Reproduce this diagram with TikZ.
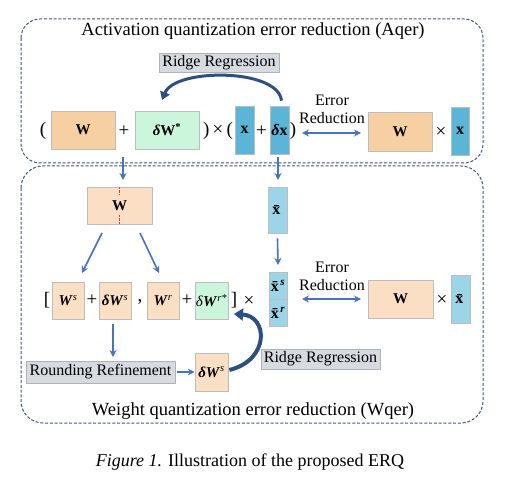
\documentclass[tikz,border=0pt]{standalone}
\usepackage{fontspec}
\setmainfont{Liberation Serif}
\usetikzlibrary{arrows.meta}
\definecolor{orgA}{HTML}{F6CFA2}
\definecolor{orgB}{HTML}{FADFC4}
\definecolor{grnA}{HTML}{CBF6DB}
\definecolor{bluA}{HTML}{5AB5D6}
\definecolor{bluB}{HTML}{9CD4E8}
\definecolor{gryF}{HTML}{D7DBE0}
\definecolor{gryD}{HTML}{AEB3B8}
\definecolor{bordr}{HTML}{BDBDBD}
\definecolor{arrB}{HTML}{4A72BE}
\definecolor{arrD}{HTML}{2D4F82}
\definecolor{dashc}{HTML}{3E5585}
\definecolor{redd}{HTML}{E8343A}
\tikzset{
  bx/.style={draw=bordr, line width=0.7pt, inner sep=0pt, font=\fontsize{15}{17}\selectfont},
  ob/.style={bx, fill=orgA},
  obl/.style={bx, fill=orgB},
  gb/.style={bx, fill=grnA},
  bb/.style={bx, fill=bluA, font=\fontsize{16}{18}\selectfont},
  bbl/.style={bx, fill=bluB, font=\fontsize{16}{18}\selectfont},
  lbl/.style={draw=gryD, fill=gryF, line width=0.7pt, inner sep=0pt, font=\fontsize{16}{18}\selectfont},
  txt/.style={inner sep=0pt, font=\fontsize{16}{18}\selectfont},
  op/.style={inner sep=0pt, font=\fontsize{19}{21}\selectfont},
  ttl/.style={inner sep=0pt, font=\fontsize{18.5}{21}\selectfont},
  region/.style={draw=dashc, line width=1pt, dash pattern=on 3pt off 1.8pt},
  barr/.style={draw=arrB, line width=1.6pt, -{Stealth[length=7pt,width=7pt]}},
  darr/.style={draw=arrB, line width=1.6pt, {Stealth[length=7pt,width=7pt]}-{Stealth[length=7pt,width=7pt]}},
  carr/.style={draw=arrD, line width=3pt, -{Triangle[length=8pt,width=10pt]}},
}
\begin{document}
\begin{tikzpicture}[x=1pt,y=-1pt]
\useasboundingbox (0,0) rectangle (506,486);
% regions
\draw[region, rounded corners=19pt] (21,19) rectangle (483,163);
\draw[region, rounded corners=22pt] (21,166) rectangle (483,423);
\node[ttl] (t1) at (253,31) {Activation quantization error reduction (Aqer)};
\node[ttl] (t2) at (253,411) {Weight quantization error reduction (Wqer)};
\node[inner sep=0pt, font=\fontsize{18}{20}\selectfont] (cap) at (250,462) {\textit{Figure 1.} Illustration of the proposed ERQ};

% top row
\node[lbl, minimum width=120pt, minimum height=19pt] (rr1) at (219,62.5) {Ridge Regression};
\node[op] at (43,131) {(};
\node[ob, minimum width=64pt, minimum height=38pt] (w1) at (83,130) {\textbf{W}};
\node[op] at (124,131) {+};
\node[gb, minimum width=64pt, minimum height=38pt] (dw1) at (167,130) {\textbf{\textit{δ}W}\textsuperscript{\textbf{*}}};
\node[op] at (218,131) {)\,×\,(};
\node[bb, minimum width=19pt, minimum height=48pt] (x1) at (244.5,130) {\textbf{x}};
\node[op] at (261.5,131) {+};
\node[bb, minimum width=19pt, minimum height=48pt] (dx1) at (279.5,130) {\textbf{\textit{δ}x}};
\node[op] (rp) at (293,131) {)};
\node[txt, align=center] (er1) at (332,109) {Error\\Reduction};
\node[ob, minimum width=64pt, minimum height=39pt] (w2) at (400,131.5) {\textbf{W}};
\node[op] at (441,132) {×};
\node[bb, minimum width=18pt, minimum height=48pt] (x2) at (460,131) {\textbf{x}};
\coordinate (ea1) at (302,133);
\coordinate (eb1) at (361,133);
\draw[darr] (ea1) -- (eb1);
\draw[carr] (dx1.north) ++(2,-5) .. controls (278,68) and (175,68) .. (162,100);

% connectors to lower region
\coordinate (va) at (123,157);
\coordinate (vb) at (278,157);
\node[obl, minimum width=65pt, minimum height=37pt] (wsp) at (119.5,205.5) {\textbf{W}};
\draw[redd, line width=0.9pt, dash pattern=on 2.2pt off 1.5pt] (wsp.north) -- ++(0,8);
\draw[redd, line width=0.9pt, dash pattern=on 2.2pt off 1.5pt] (wsp.south) -- ++(0,-9);
\node[bbl, minimum width=19pt, minimum height=46pt] (xb) at (277.5,210) {\textbf{\={x}}};
\draw[barr] (va) -- (123,180);
\draw[barr] (vb) -- (278,180);
\draw[barr] (xb.south) ++(0,5) -- (278,265);

% second row
\node[bbl, minimum width=18pt, minimum height=27pt] (xs) at (278,285.5) {\textbf{\={x}}\kern-1pt\textsuperscript{\textbf{\textit{s}}}};
\node[bbl, minimum width=18pt, minimum height=27pt] (xr) at (278,312.5) {\textbf{\={x}}\kern-1pt\textsuperscript{\textbf{\textit{r}}}};
\node[op] at (47,300) {[};
\node[obl, minimum width=32pt, minimum height=37pt] (ws) at (68,300.5) {\textbf{\textit{W}}\textsuperscript{\textit{s}}};
\node[op] at (92,300) {+};
\node[obl, minimum width=32pt, minimum height=37pt] (dws) at (115,300.5) {\textbf{\textit{δW}}\textsuperscript{\textit{s}}};
\node[op] at (140,302) {,};
\node[obl, minimum width=32pt, minimum height=37pt] (wr) at (163,300.5) {\textbf{\textit{W}}\textsuperscript{\textit{r}}};
\node[op] at (187,300) {+};
\node[gb, minimum width=33pt, minimum height=37pt] (dwr) at (211.5,300.5) {\textit{δ}\textbf{\textit{W}}\textsuperscript{\textit{r*}}};
\node[op] at (234,300) {]};
\node[op] at (249,301) {×};
\node[txt, align=center] (er2) at (332,276) {Error\\Reduction};
\node[obl, minimum width=65pt, minimum height=38pt] (w3) at (400.5,299) {\textbf{W}};
\node[op] at (442,300) {×};
\node[bbl, minimum width=19pt, minimum height=48pt] (xb2) at (460.5,299) {\textbf{\={x}}};
\coordinate (ea2) at (302,299);
\coordinate (eb2) at (361,299);
\draw[darr] (ea2) -- (eb2);

\draw[barr] (102,233) -- (82,273);
\draw[barr] (140,233) -- (159,273);

% bottom
\node[lbl, minimum width=149pt, minimum height=22pt] (rr) at (100.5,372) {Rounding Refinement};
\node[obl, minimum width=33pt, minimum height=38pt] (dws2) at (211.5,372) {\textbf{\textit{δW}}\textsuperscript{\textit{s}}};
\node[lbl, minimum width=119pt, minimum height=20pt] (rr2) at (320.5,359) {Ridge Regression};
\draw[barr] (113,324) -- (113,357);
\draw[barr] (rr.east) ++(2,0) -- (dws2.west);
\draw[draw=arrD, line width=4pt, -{Triangle[length=9pt,width=12pt]}] (dws2.east) ++(1,-2) .. controls (270,360) and (268,316) .. (234,314);
\end{tikzpicture}
\end{document}
